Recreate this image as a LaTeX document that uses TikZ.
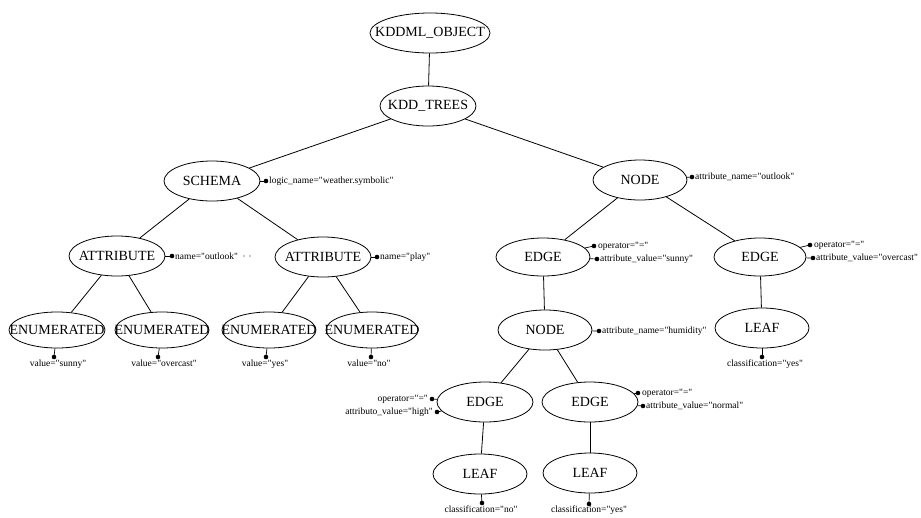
\documentclass[tikz,border=0pt]{standalone}
\usepackage{fontspec}
\setmainfont{Liberation Serif}[Ligatures=TeXOff]
\usetikzlibrary{shapes.geometric}

% element label: text does not affect the ellipse size
\newcommand{\elt}[1]{\makebox[0pt]{\fontsize{14}{16}\selectfont #1}}

\tikzset{
  elem/.style 2 args={draw, ellipse, inner sep=0pt, line width=0.8pt,
    minimum width=#1pt, minimum height=#2pt},
  attrtxt/.style={inner sep=0pt, font=\fontsize{9.5}{11}\selectfont},
  link/.style={line width=0.8pt},
  stub/.style={line width=0.7pt},
}
\newcommand{\adot}[1]{\fill (#1) circle (2.3pt);}

\begin{document}
\begin{tikzpicture}[x=1pt,y=-1pt]
\useasboundingbox (0,0) rectangle (921,517);

% element nodes
\node[elem={120}{40}] (kddml) at (430,33) {\elt{KDDML\_OBJECT}};
\node[elem={96}{40}] (trees) at (428,106) {\elt{KDD\_TREES}};
\node[elem={96}{40}] (schema) at (212,181) {\elt{SCHEMA}};
\node[elem={94}{40}] (nodeA) at (640,180) {\elt{NODE}};
\node[elem={96}{40}] (attrA) at (117,256) {\elt{ATTRIBUTE}};
\node[elem={96}{40}] (attrB) at (323,257) {\elt{ATTRIBUTE}};
\node[elem={96}{36}] (enA) at (57,330) {\elt{ENUMERATED}};
\node[elem={94}{36}] (enB) at (162,330) {\elt{ENUMERATED}};
\node[elem={94}{36}] (enC) at (269,330) {\elt{ENUMERATED}};
\node[elem={92}{36}] (enD) at (372,330) {\elt{ENUMERATED}};
\node[elem={94}{38}] (edgeA) at (543,257) {\elt{EDGE}};
\node[elem={92}{38}] (edgeB) at (760,257) {\elt{EDGE}};
\node[elem={94}{40}] (nodeB) at (545,330) {\elt{NODE}};
\node[elem={94}{40}] (leafA) at (762,328) {\elt{LEAF}};
\node[elem={96}{40}] (edgeC) at (485,402) {\elt{EDGE}};
\node[elem={96}{40}] (edgeD) at (590,402) {\elt{EDGE}};
\node[elem={94}{40}] (leafB) at (480,474) {\elt{LEAF}};
\node[elem={94}{40}] (leafC) at (590,473) {\elt{LEAF}};

% tree connectors
\draw[link] (kddml) -- (trees);
\draw[link] (trees) -- (schema);
\draw[link] (trees) -- (nodeA);
\draw[link] (schema) -- (attrA);
\draw[link] (schema) -- (attrB);
\draw[link] (attrA) -- (enA);
\draw[link] (attrA) -- (enB);
\draw[link] (attrB) -- (enC);
\draw[link] (attrB) -- (enD);
\draw[link] (nodeA) -- (edgeA);
\draw[link] (nodeA) -- (edgeB);
\draw[link] (edgeA) -- (nodeB);
\draw[link] (edgeB) -- (leafA);
\draw[link] (nodeB) -- (edgeC);
\draw[link] (nodeB) -- (edgeD);
\draw[link] (edgeC) -- (leafB);
\draw[link] (edgeD) -- (leafC);

% attribute anchors
\coordinate (dSchema) at (266,181);
\coordinate (dAttrA) at (172,256);
\coordinate (dAttrB) at (377,257);
\coordinate (dNodeA) at (692,177);
\coordinate (dEdgeAop) at (594,246);
\coordinate (dEdgeAav) at (597,259);
\coordinate (dEdgeBop) at (810,245);
\coordinate (dEdgeBav) at (813,258);
\coordinate (dNodeB) at (599,331);
\coordinate (dLeafA) at (762,357);
\coordinate (dEnA) at (54,357);
\coordinate (dEnB) at (158,357);
\coordinate (dEnC) at (266,357);
\coordinate (dEnD) at (371,357);
\coordinate (dEdgeCop) at (432,399);
\coordinate (dEdgeCav) at (437,412);
\coordinate (dEdgeDop) at (638,393);
\coordinate (dEdgeDav) at (643,406);
\coordinate (dLeafB) at (482,503);
\coordinate (dLeafC) at (589,504);

% stubs from elements to attribute dots
\draw[stub] (schema) -- (dSchema);
\draw[stub] (attrA) -- (dAttrA);
\draw[stub] (attrB) -- (dAttrB);
\draw[stub] (nodeA) -- (dNodeA);
\draw[stub] (edgeA) -- (dEdgeAop);
\draw[stub] (edgeA) -- (dEdgeAav);
\draw[stub] (edgeB) -- (dEdgeBop);
\draw[stub] (edgeB) -- (dEdgeBav);
\draw[stub] (nodeB) -- (dNodeB);
\draw[stub] (leafA) -- (dLeafA);
\draw[stub] (enA) -- (dEnA);
\draw[stub] (enB) -- (dEnB);
\draw[stub] (enC) -- (dEnC);
\draw[stub] (enD) -- (dEnD);
\draw[stub] (edgeC) -- (dEdgeCop);
\draw[stub] (edgeC) -- (dEdgeCav);
\draw[stub] (edgeD) -- (dEdgeDop);
\draw[stub] (edgeD) -- (dEdgeDav);
\draw[stub] (leafB) -- (dLeafB);
\draw[stub] (leafC) -- (dLeafC);

\adot{dSchema} \adot{dAttrA} \adot{dAttrB} \adot{dNodeA}
\adot{dEdgeAop} \adot{dEdgeAav} \adot{dEdgeBop} \adot{dEdgeBav}
\adot{dNodeB} \adot{dLeafA} \adot{dEnA} \adot{dEnB} \adot{dEnC} \adot{dEnD}
\adot{dEdgeCop} \adot{dEdgeCav} \adot{dEdgeDop} \adot{dEdgeDav}
\adot{dLeafB} \adot{dLeafC}

% attribute texts
\node[attrtxt, anchor=west] (tSchema) at (269,181) {logic\_name="weather.symbolic"};
\node[attrtxt, anchor=west] (tAttrA) at (175,256) {name="outlook"};
\node[attrtxt, anchor=west] (tAttrB) at (380,257) {name="play"};
\node[attrtxt, anchor=west] (tNodeA) at (695,177) {attribute\_name="outlook"};
\node[attrtxt, anchor=west] (tEdgeAop) at (598,246) {operator="="};
\node[attrtxt, anchor=west] (tEdgeAav) at (600,259) {attribute\_value="sunny"};
\node[attrtxt, anchor=west] (tEdgeBop) at (814,245) {operator="="};
\node[attrtxt, anchor=west] (tEdgeBav) at (816,258) {attribute\_value="overcast"};
\node[attrtxt, anchor=west] (tNodeB) at (602,331) {attribute\_name="humidity"};
\node[attrtxt, anchor=north] (tLeafA) at (765,360) {classification="yes"};
\node[attrtxt, anchor=north] (tEnA) at (58,360) {value="sunny"};
\node[attrtxt, anchor=north] (tEnB) at (164,360) {value="overcast"};
\node[attrtxt, anchor=north] (tEnC) at (265,360) {value="yes"};
\node[attrtxt, anchor=north] (tEnD) at (369,360) {value="no"};
\node[attrtxt, anchor=east] (tEdgeCop) at (428,399) {operator="="};
\node[attrtxt, anchor=east] (tEdgeCav) at (433,412) {attributo\_value="high"};
\node[attrtxt, anchor=west] (tEdgeDop) at (642,393) {operator="="};
\node[attrtxt, anchor=west] (tEdgeDav) at (646,406) {attribute\_value="normal"};
\node[attrtxt, anchor=north] (tLeafB) at (481,506) {classification="no"};
\node[attrtxt, anchor=north] (tLeafC) at (589,506) {classification="yes"};

% two faint dots trailing the first name attribute
\fill (244,256) circle (0.6pt);
\fill (250,256) circle (0.6pt);
\end{tikzpicture}
\end{document}
